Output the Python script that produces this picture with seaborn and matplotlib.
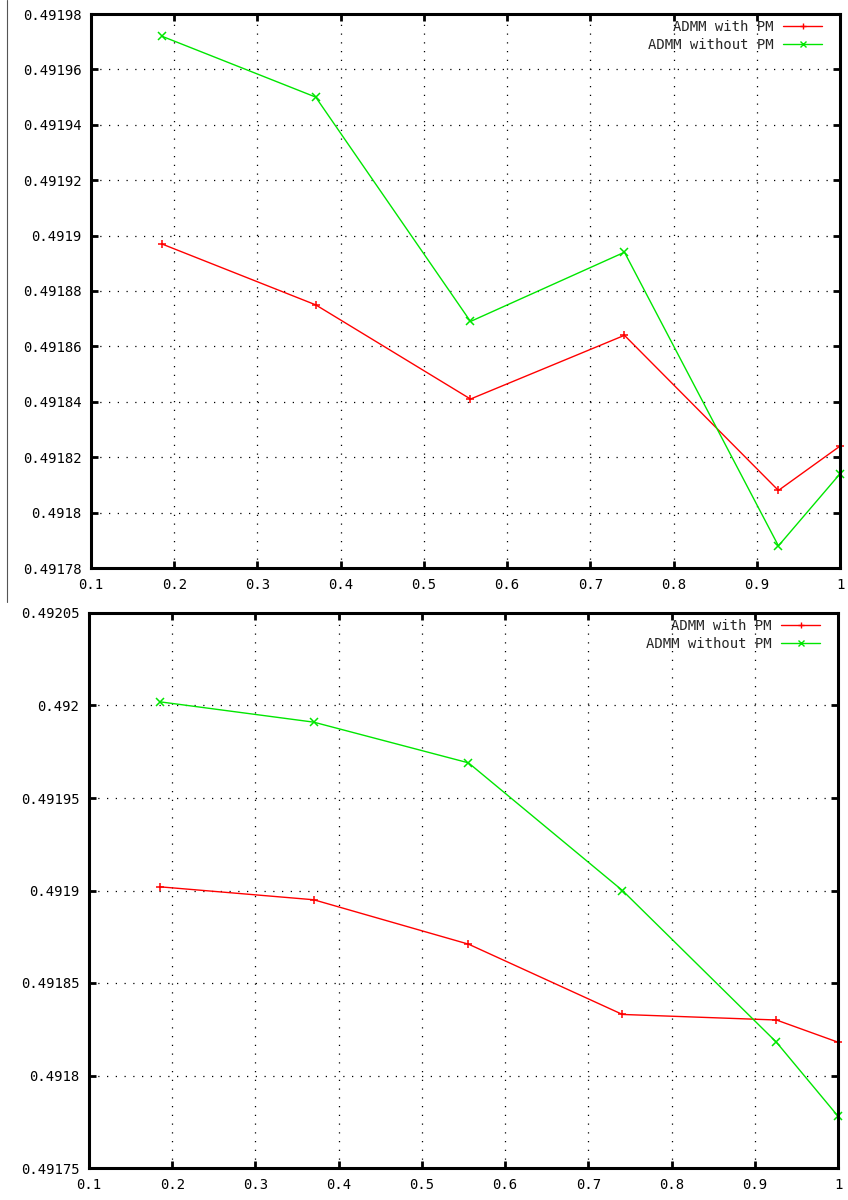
import matplotlib
matplotlib.use("Agg")
import matplotlib.pyplot as plt
from matplotlib.ticker import MultipleLocator, FuncFormatter
from matplotlib.lines import Line2D
import pandas as pd
import seaborn as sns

# penalty parameter sampling points
x_vals = [0.185, 0.370, 0.556, 0.741, 0.926, 1.0]

# upper panel
top_with_pm = [0.491897, 0.491875, 0.491841, 0.491864, 0.491808, 0.491824]
top_without_pm = [0.491972, 0.491950, 0.491869, 0.491894, 0.491788, 0.491814]

# lower panel
bot_with_pm = [0.491902, 0.491895, 0.491871, 0.491833, 0.491830, 0.491818]
bot_without_pm = [0.492002, 0.491991, 0.491969, 0.491900, 0.491818, 0.491778]

series_names = ["ADMM with PM", "ADMM without PM"]
x_ticks = [0.1, 0.2, 0.3, 0.4, 0.5, 0.6, 0.7, 0.8, 0.9, 1.0]

sns.set_theme(style="white")
plt.rcParams["font.family"] = ["DejaVu Sans Mono", "DejaVu Sans"]

RED = "#ff0000"
GREEN = "#00e600"


def make_frame(a, b):
    return pd.DataFrame({
        "x": x_vals * 2,
        "value": a + b,
        "series": [series_names[0]] * len(a) + [series_names[1]] * len(b),
    })


def draw_panel(ax, frame, ylo, yhi, ystep):
    sns.lineplot(data=frame, x="x", y="value", hue="series", style="series",
                 markers=["+", "x"], dashes=False, palette=[RED, GREEN],
                 linewidth=1.0, markersize=5.5, ax=ax, legend=True, clip_on=False)
    # markers take the colour of their line
    for ln in ax.lines:
        ln.set_markeredgecolor(ln.get_color())
        ln.set_markeredgewidth(1.1)
    ax.set_xlim(0.1, 1.0)
    ax.set_ylim(ylo, yhi)
    ax.set_xticks(x_ticks)
    ax.yaxis.set_major_locator(MultipleLocator(ystep))
    fmt = FuncFormatter(lambda v, p: "%g" % round(v, 6))
    ax.xaxis.set_major_formatter(fmt)
    ax.yaxis.set_major_formatter(fmt)
    ax.set_xlabel("")
    ax.set_ylabel("")
    ax.grid(True, color="black", linestyle=(0, (1, 6)), linewidth=0.9)
    ax.tick_params(axis="both", which="major", direction="in", length=5,
                   width=2, top=True, right=True, bottom=True, left=True,
                   labelsize=10, colors="black", pad=7)
    for s in ax.spines.values():
        s.set_color("black")
        s.set_linewidth(2.2)
    w = ax.get_position().width * 848
    h = ax.get_position().height * 1200
    leg = ax.legend(loc="upper right", frameon=False, markerfirst=False,
                    bbox_to_anchor=(1 - 18 / w, 1 - 6 / h),
                    borderaxespad=0, borderpad=0,
                    handlelength=2.8, labelspacing=0.3,
                    handletextpad=0.7, fontsize=10)
    for lh in leg.legend_handles:
        lh.set_markeredgecolor(lh.get_color())
        lh.set_markeredgewidth(1.0)
        lh.set_markersize(5)
    # right-align legend labels
    leg._legend_box.align = "right"
    for vp in leg._legend_box.get_children()[1].get_children():
        vp.align = "right"


fig = plt.figure(figsize=(8.48, 12.0), dpi=100)
ax1 = fig.add_axes([91 / 848, 1 - 568 / 1200, (840 - 91) / 848, (568 - 14) / 1200])
ax2 = fig.add_axes([89 / 848, 1 - 1168 / 1200, (838 - 89) / 848, (1168 - 613) / 1200])

draw_panel(ax1, make_frame(top_with_pm, top_without_pm), 0.49178, 0.49198, 0.00002)
draw_panel(ax2, make_frame(bot_with_pm, bot_without_pm), 0.49175, 0.49205, 0.00005)

# thin border line on the left edge of the upper panel
fig.add_artist(Line2D([7 / 848, 7 / 848], [1 - 602 / 1200, 1.0],
                      transform=fig.transFigure, color="#555555", linewidth=0.8))

fig.savefig("out.png", dpi=100, facecolor="white")
